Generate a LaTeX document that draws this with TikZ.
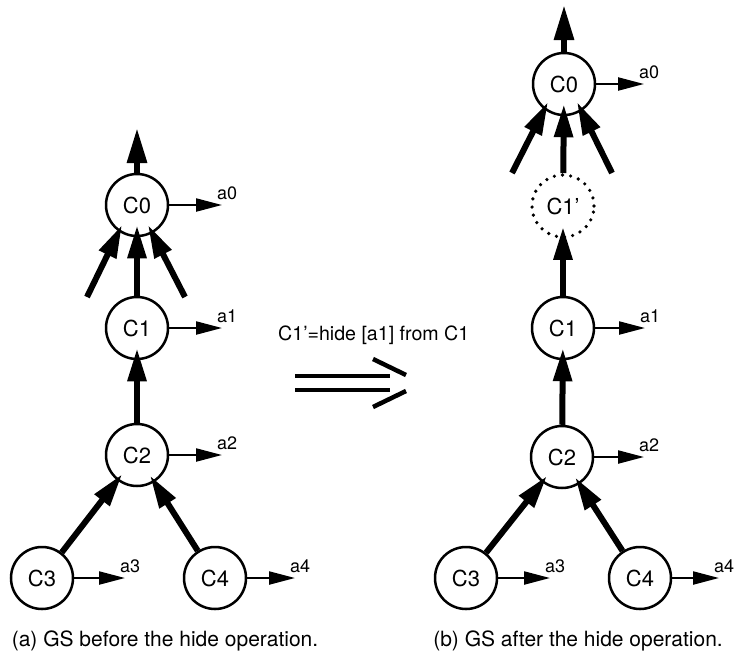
\documentclass[tikz,border=0pt]{standalone}
\usepackage{fontspec}
\setmainfont{TeX Gyre Heros}
\usetikzlibrary{arrows.meta,calc}
\begin{document}
\begin{tikzpicture}[x=1pt,y=-1pt,
  cnode/.style={circle,draw,line width=2.5pt,minimum size=62pt,inner sep=0pt,
    font=\fontsize{22}{22}\selectfont},
  dotnode/.style={cnode,dash pattern=on 0pt off 8.2pt,line cap=round,line width=3.6pt},
  link/.style={line width=6pt,-{Triangle[length=33pt,width=18pt]},shorten >=-12pt},
  uplink/.style={line width=6pt,-{Triangle[length=35pt,width=19pt]}},
  action/.style={line width=2.2pt,-{Triangle[length=26pt,width=13pt]}},
  alabel/.style={anchor=base west,inner sep=0pt,font=\fontsize{18}{18}\selectfont},
  caption/.style={font=\fontsize{21}{21}\selectfont,inner sep=0pt},
  implies/.style={line width=4.5pt}
]
\useasboundingbox (0,0) rectangle (743,656);

% ---------- (a) before the hide operation ----------
\node[cnode] (aC0) at (137,205) {C0};
\node[cnode] (aC1) at (137,328) {C1};
\node[cnode] (aC2) at (137,455) {C2};
\node[cnode] (aC3) at (42,578) {C3};
\node[cnode] (aC4) at (215,578) {C4};

\coordinate (aUp) at (137,128);
\draw[uplink] (aC0) -- (aUp);
\coordinate (aInL) at (87,297);
\coordinate (aInR) at (185,297);
\coordinate (aTipL) at ($(aC0)+(-15,20)$);
\coordinate (aTipR) at ($(aC0)+(11,20)$);
\draw[link,shorten >=0pt] (aInL) -- (aTipL);
\draw[link,shorten >=0pt] (aInR) -- (aTipR);
\draw[link] (aC1) -- (aC0);
\draw[link] (aC2) -- (aC1);
\draw[link,shorten >=-8pt] (aC3) -- (aC2);
\draw[link,shorten >=-8pt] (aC4) -- (aC2);

\foreach \n/\l/\dx in {C0/a0/85,C1/a1/85,C2/a2/85,C3/a3/83,C4/a4/80}{
  \coordinate (a\n t) at ($(a\n)+(\dx,0)$);
  \draw[action] (a\n.east) -- (a\n t);
  \node[alabel] (a\n l) at ($(a\n t)+(-5,-6)$) {\l};
}

\node[caption] (capA) at (165,641) {(a) GS before the hide operation.};

% ---------- the hide operation ----------
\node[anchor=base west,inner sep=0pt,font=\fontsize{19.6}{19.6}\selectfont] (op) at (278,340) {C1’=hide [a1] from C1};
\draw[implies] (295,376) -- (390,376);
\draw[implies] (295,390) -- (390,390);
\draw[implies] (373,359) -- (406,375);
\draw[implies] (373,407) -- (406,391);

% ---------- (b) after the hide operation ----------
\node[cnode] (bC0) at (564,84) {C0};
\node[dotnode] (bC1p) at (563,206) {C1’};
\node[cnode] (bC1) at (563,328) {C1};
\node[cnode] (bC2) at (562,457) {C2};
\node[cnode] (bC3) at (466,578) {C3};
\node[cnode] (bC4) at (640,578) {C4};

\coordinate (bUp) at (564,5);
\draw[uplink] (bC0) -- (bUp);
\coordinate (bInL) at (512,173);
\coordinate (bInR) at (612,173);
\coordinate (bTipL) at ($(bC0)+(-16,18)$);
\coordinate (bTipR) at ($(bC0)+(13,18)$);
\draw[link,shorten >=0pt] (bInL) -- (bTipL);
\draw[link,shorten >=0pt] (bInR) -- (bTipR);
\draw[link] (bC1p) -- (bC0);
\draw[link] (bC1) -- (bC1p);
\draw[link] (bC2) -- (bC1);
\draw[link,shorten >=-8pt] (bC3) -- (bC2);
\draw[link,shorten >=-8pt] (bC4) -- (bC2);

\foreach \n/\l/\dx in {C0/a0/80,C1/a1/82,C2/a2/82,C3/a3/84,C4/a4/79}{
  \coordinate (b\n t) at ($(b\n)+(\dx,0)$);
  \draw[action] (b\n.east) -- (b\n t);
  \node[alabel] (b\n l) at ($(b\n t)+(-5,-6)$) {\l};
}

\node[caption] (capB) at (578,641) {(b) GS after the hide operation.};
\end{tikzpicture}
\end{document}
